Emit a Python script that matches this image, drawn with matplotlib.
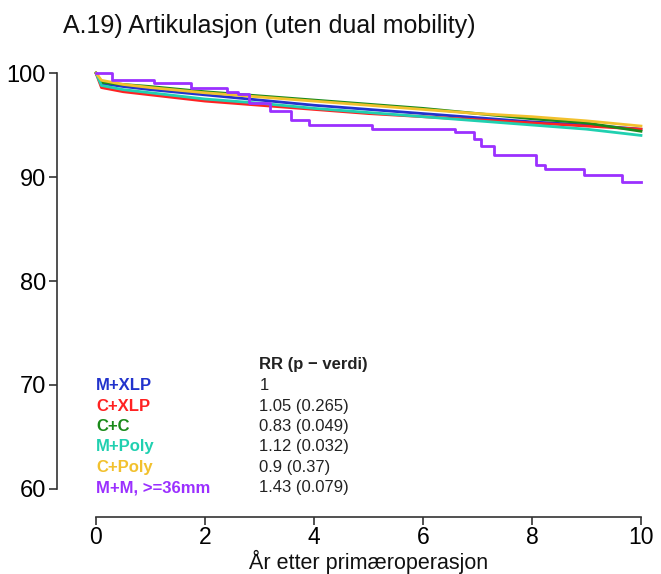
import matplotlib
matplotlib.use('Agg')
import matplotlib.pyplot as plt

plt.rcParams['font.family'] = ['Liberation Sans', 'DejaVu Sans']

# ── Data ──────────────────────────────────────────────────────────
years = [0, 0.1, 0.5, 1, 2, 3, 4, 5, 6, 7, 8, 9, 10]

m_xlp   = [100, 99.0, 98.7, 98.4, 97.9, 97.4, 96.9, 96.5, 96.1, 95.7, 95.3, 95.0, 94.6]
c_xlp   = [100, 98.6, 98.2, 97.9, 97.3, 96.9, 96.5, 96.1, 95.8, 95.5, 95.2, 94.9, 94.6]
c_c     = [100, 99.1, 98.9, 98.7, 98.2, 97.8, 97.4, 97.0, 96.6, 96.1, 95.6, 95.2, 94.4]
m_poly  = [100, 98.8, 98.4, 98.1, 97.5, 97.1, 96.6, 96.2, 95.8, 95.4, 95.0, 94.6, 94.0]
c_poly  = [100, 99.3, 98.9, 98.6, 98.1, 97.7, 97.3, 96.9, 96.5, 96.1, 95.8, 95.4, 94.9]

mm_years = [0, 0.29, 1.06, 1.74, 2.40, 2.61, 2.80, 3.19, 3.57, 3.91, 5.07, 6.58,
            6.93, 7.07, 7.31, 8.08, 8.24, 8.95, 9.65, 10.0]
mm_36    = [100, 99.3, 99.0, 98.6, 98.2, 97.95, 97.1, 96.3, 95.5, 95.0, 94.6, 94.3,
            93.7, 93.0, 92.1, 91.2, 90.8, 90.2, 89.55, 89.55]

groups = ["M+XLP", "C+XLP", "C+C", "M+Poly", "C+Poly", "M+M, >=36mm"]
rr_text = ["1", "1.05 (0.265)", "0.83 (0.049)", "1.12 (0.032)", "0.9 (0.37)", "1.43 (0.079)"]
colors = ["#2233cc", "#ff2222", "#1a8a1a", "#20d0b0", "#f2c12e", "#9b30ff"]

smooth = [m_xlp, c_xlp, c_c, m_poly, c_poly]

# ── Plot ──────────────────────────────────────────────────────────
fig = plt.figure(figsize=(6.61, 5.74), dpi=100)
ax = fig.add_axes([0.1452, 0.1481, 0.8245, 0.7247])

for y, col in zip(smooth, colors[:5]):
    ax.plot(years, y, color=col, lw=2, clip_on=False)
ax.plot(mm_years, mm_36, color=colors[5], lw=2, drawstyle='steps-post', clip_on=False)

ax.set_xlim(0, 10)
ax.set_ylim(60, 100)
ax.set_xticks([0, 2, 4, 6, 8, 10])
ax.set_yticks([60, 70, 80, 90, 100])

for side in ("top", "right"):
    ax.spines[side].set_visible(False)
ax.spines["left"].set_position(("outward", 28))
ax.spines["bottom"].set_position(("outward", 20))
ax.spines["left"].set_bounds(60, 100)
ax.spines["bottom"].set_bounds(0, 10)
for side in ("left", "bottom"):
    ax.spines[side].set_color("#333333")
    ax.spines[side].set_linewidth(1.2)
ax.tick_params(axis="both", length=6, width=1.2, color="#333333")
ax.tick_params(axis="y", labelsize=17, pad=2)
ax.tick_params(axis="x", labelsize=16.5, pad=1)

# x label placed in figure pixels so it sits just under the tick labels
fig.text(0.5 * (96 + 641) / 661, 1 - 569 / 574, "År etter primæroperasjon",
         fontsize=15.5, ha="center", va="baseline", color="#111111")

# legend table
ax.text(3.0, 72.0, "RR (p \u2212 verdi)", fontsize=12, fontweight="bold",
        va="center", ha="left", color="#222222")
for i, (g, rr, col) in enumerate(zip(groups, rr_text, colors)):
    yy = 69.95 - 1.97 * i
    ax.text(0.0, yy, g, color=col, fontsize=12, fontweight="bold", va="center", ha="left")
    ax.text(3.0, yy, rr, color="#222222", fontsize=12, va="center", ha="left")

fig.text(63 / 661, 1 - 26 / 574, "A.19) Artikulasjon (uten dual mobility)",
         fontsize=18, ha="left", va="center", color="#111111")

fig.savefig("out.png", dpi=100)
